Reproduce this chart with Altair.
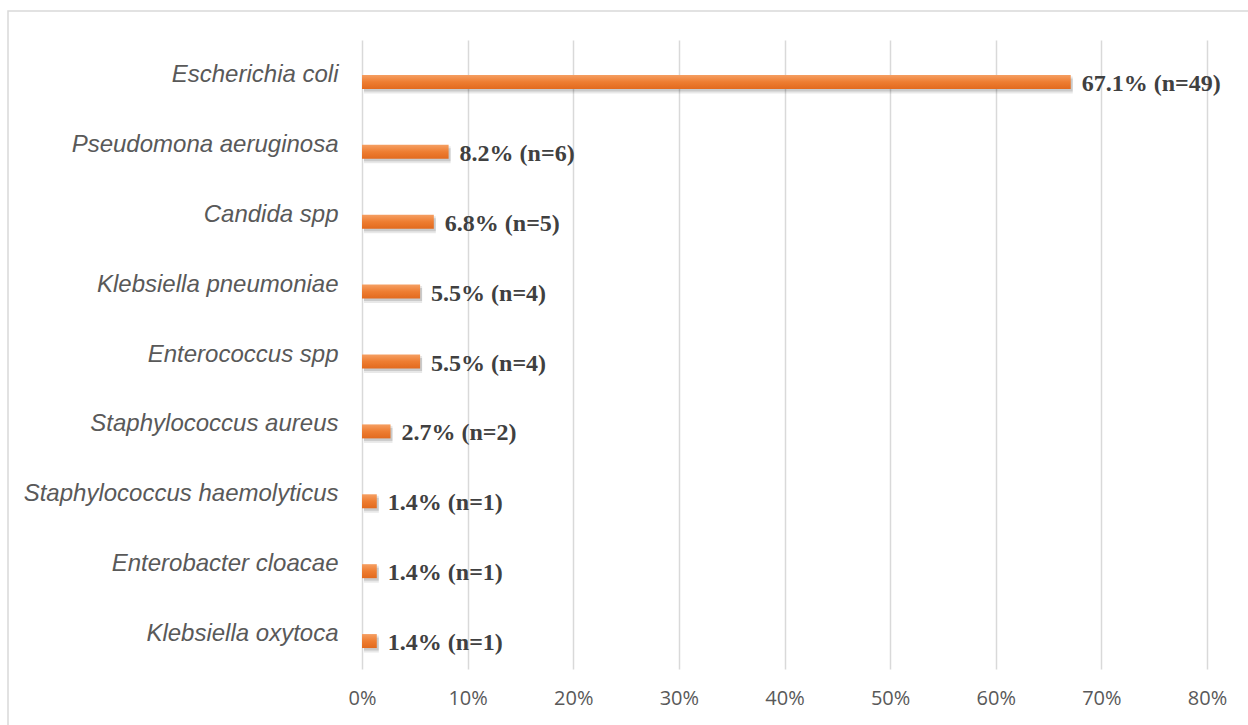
import altair as alt
import pandas as pd

# Isolated organisms, share of positive cultures and counts
organisms = [
    "Escherichia coli",
    "Pseudomona aeruginosa",
    "Candida spp",
    "Klebsiella pneumoniae",
    "Enterococcus spp",
    "Staphylococcus aureus",
    "Staphylococcus haemolyticus",
    "Enterobacter cloacae",
    "Klebsiella oxytoca",
]
percent = [67.1, 8.2, 6.8, 5.5, 5.5, 2.7, 1.4, 1.4, 1.4]
counts = [49, 6, 5, 4, 4, 2, 1, 1, 1]

df = pd.DataFrame({
    "organism": organisms,
    "share": [p / 100 for p in percent],
    "label": [f"{p:.1f}% (n={n})" for p, n in zip(percent, counts)],
})

W, H = 845, 629

x_enc = alt.X("share:Q",
              scale=alt.Scale(domain=[0, 0.8], nice=False, zero=True),
              axis=alt.Axis(format=".0%", values=[i / 10 for i in range(9)],
                            title=None, domain=False, ticks=False,
                            grid=True, gridColor="#d9d9d9", gridWidth=1.5,
                            labelFont="Open Sans", labelFontSize=20,
                            labelColor="#595959", labelPadding=19,
                            labelFlush=False))
y_enc = alt.Y("organism:N", sort=organisms,
              scale=alt.Scale(paddingInner=0, paddingOuter=0),
              axis=alt.Axis(title=None, domain=False, ticks=False, grid=False,
                            labelFont="Liberation Sans", labelFontStyle="italic",
                            labelFontSize=24, labelColor="#595959",
                            labelPadding=24, labelLimit=400))

base = alt.Chart(df)

# soft drop shadow under each bar
shadow1 = base.mark_bar(size=17, color="#000000", opacity=0.09,
                        xOffset=2, yOffset=10).encode(x=x_enc, y=y_enc)
shadow2 = base.mark_bar(size=13, color="#000000", opacity=0.13,
                        xOffset=2, yOffset=10).encode(x=x_enc, y=y_enc)

orange = alt.Gradient(
    gradient="linear",
    stops=[alt.GradientStop(color="#f59f63", offset=0),
           alt.GradientStop(color="#ee7d31", offset=0.5),
           alt.GradientStop(color="#e26a1e", offset=1)],
    x1=0, x2=0, y1=0, y2=1,
)
bars = base.mark_bar(size=14, color=orange, yOffset=7).encode(x=x_enc, y=y_enc)

labels = base.mark_text(align="left", baseline="middle", dx=11, yOffset=9,
                        font="Liberation Serif", fontWeight="bold",
                        fontSize=24, color="#404040").encode(
    x=x_enc, y=y_enc, text="label:N")

frame = alt.Chart(alt.Data(values=[{}])).mark_rect(
    fill="white", fillOpacity=0, stroke="#d9d9d9", strokeWidth=1.5
).encode(x=alt.value(-354), x2=alt.value(900),
         y=alt.value(-29), y2=alt.value(700))

chart = alt.layer(frame, shadow1, shadow2, bars, labels).properties(
    width=W, height=H,
    autosize=alt.AutoSizeParams(type="none"),
    padding={"left": 362, "top": 40, "right": 41, "bottom": 56},
    background="white",
).configure_view(stroke=None)

chart.save("out.html", embed_options={"renderer": "svg", "actions": False})
